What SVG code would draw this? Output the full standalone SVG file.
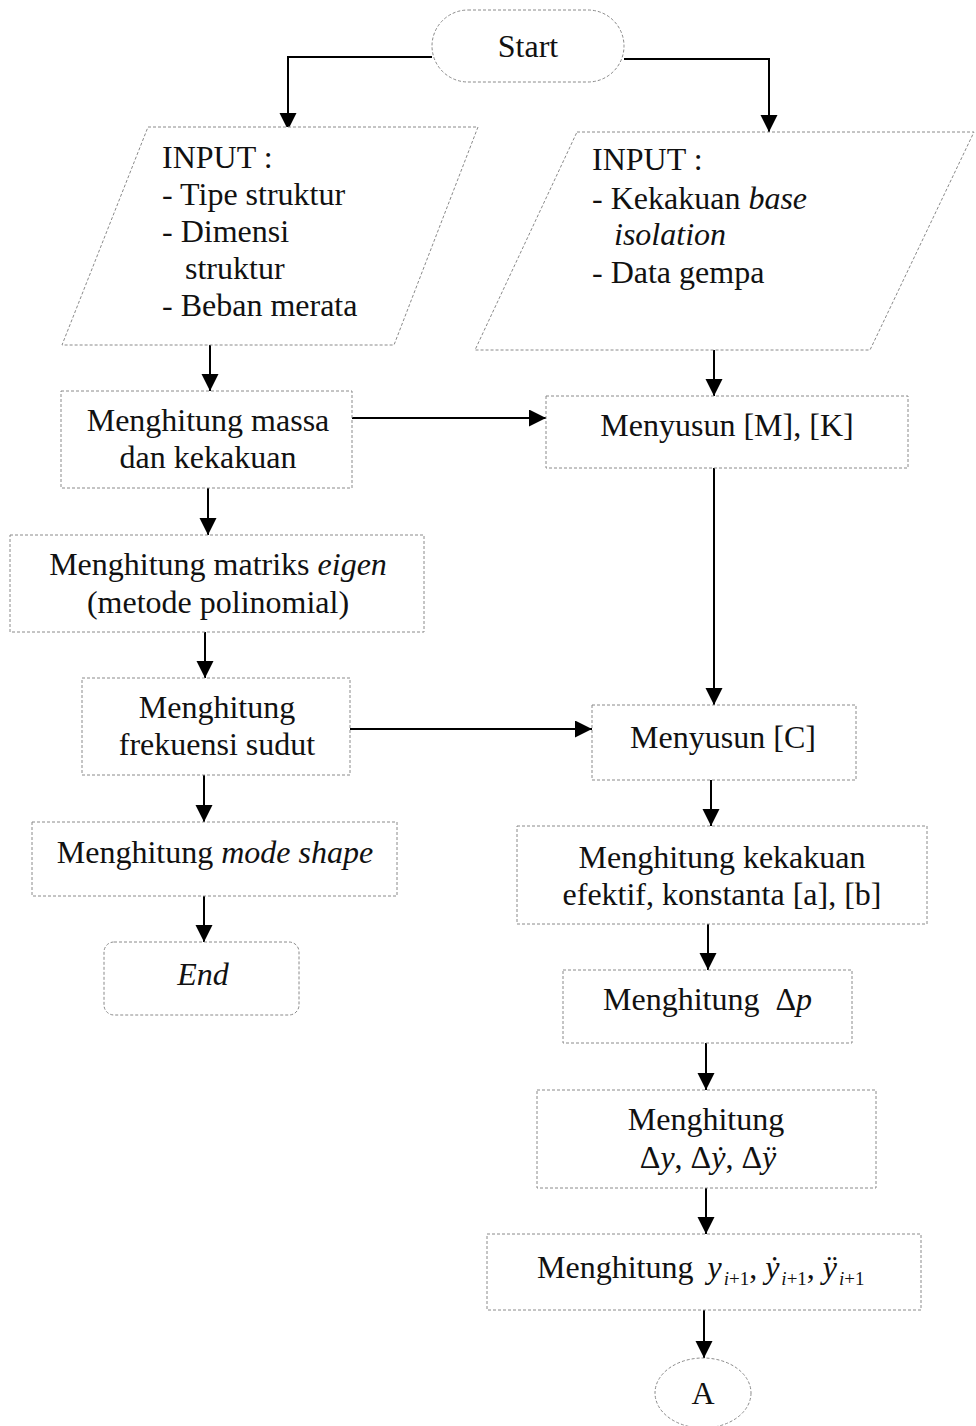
<svg xmlns="http://www.w3.org/2000/svg" width="976" height="1426" viewBox="0 0 976 1426">
<style>
.b{fill:#fff;stroke:#8a8a8a;stroke-width:1;stroke-dasharray:3 2}
.t{font-family:"Liberation Serif","Times New Roman",serif;font-size:32px;fill:#111}
.m{text-anchor:middle}
.i{font-style:italic}
.c{fill:none;stroke:#000;stroke-width:2}
</style>
<defs>
<marker id="ah" markerUnits="userSpaceOnUse" markerWidth="18" markerHeight="18" refX="17" refY="8.5" orient="auto">
<path d="M0,0 L17,8.5 L0,17 z" fill="#000"/>
</marker>
</defs>
<rect width="976" height="1426" fill="#fff"/>
<g id="connectors">
<polyline class="c" points="432,57 288,57 288,130" marker-end="url(#ah)"/>
<polyline class="c" points="624,59 769,59 769,132" marker-end="url(#ah)"/>
<line class="c" x1="210" y1="345" x2="210" y2="391" marker-end="url(#ah)"/>
<line class="c" x1="714" y1="350" x2="714" y2="396" marker-end="url(#ah)"/>
<line class="c" x1="352" y1="418" x2="546" y2="418" marker-end="url(#ah)"/>
<line class="c" x1="208" y1="488" x2="208" y2="535" marker-end="url(#ah)"/>
<line class="c" x1="714" y1="468" x2="714" y2="705" marker-end="url(#ah)"/>
<line class="c" x1="205" y1="632" x2="205" y2="678" marker-end="url(#ah)"/>
<line class="c" x1="350" y1="729" x2="592" y2="729" marker-end="url(#ah)"/>
<line class="c" x1="204" y1="775" x2="204" y2="822" marker-end="url(#ah)"/>
<line class="c" x1="204" y1="896" x2="204" y2="942" marker-end="url(#ah)"/>
<line class="c" x1="711" y1="780" x2="711" y2="826" marker-end="url(#ah)"/>
<line class="c" x1="708" y1="924" x2="708" y2="970" marker-end="url(#ah)"/>
<line class="c" x1="706" y1="1043" x2="706" y2="1090" marker-end="url(#ah)"/>
<line class="c" x1="706" y1="1188" x2="706" y2="1234" marker-end="url(#ah)"/>
<line class="c" x1="704" y1="1310" x2="704" y2="1358" marker-end="url(#ah)"/>
</g>
<g id="start">
<rect class="b" x="432" y="10" width="192" height="72" rx="36"/>
<text class="t m" x="528" y="57">Start</text>
</g>
<g id="input1">
<polygon class="b" points="148,127 478,127 394,345 62,345"/>
<text class="t" x="162" y="168">INPUT :</text>
<text class="t" x="162" y="205">- Tipe struktur</text>
<text class="t" x="162" y="242">- Dimensi</text>
<text class="t" x="185" y="279">struktur</text>
<text class="t" x="162" y="316">- Beban merata</text>
</g>
<g id="input2">
<polygon class="b" points="577,132 974,132 870,350 475,350"/>
<text class="t" x="592" y="170">INPUT :</text>
<text class="t" x="592" y="209">- Kekakuan <tspan class="i">base</tspan></text>
<text class="t i" x="614" y="245">isolation</text>
<text class="t" x="592" y="283">- Data gempa</text>
</g>
<g id="massa">
<rect class="b" x="61" y="391" width="291" height="97"/>
<text class="t m" x="208" y="431">Menghitung massa</text>
<text class="t m" x="208" y="468">dan kekakuan</text>
</g>
<g id="mk">
<rect class="b" x="546" y="396" width="362" height="72"/>
<text class="t m" x="727" y="436">Menyusun [M], [K]</text>
</g>
<g id="eigen">
<rect class="b" x="10" y="535" width="414" height="97"/>
<text class="t m" x="218" y="575">Menghitung matriks <tspan class="i">eigen</tspan></text>
<text class="t m" x="218" y="613">(metode polinomial)</text>
</g>
<g id="frek">
<rect class="b" x="82" y="678" width="268" height="97"/>
<text class="t m" x="217" y="718">Menghitung</text>
<text class="t m" x="217" y="755">frekuensi sudut</text>
</g>
<g id="c">
<rect class="b" x="592" y="705" width="264" height="75"/>
<text class="t m" x="723" y="748">Menyusun [C]</text>
</g>
<g id="mode">
<rect class="b" x="32" y="822" width="365" height="74"/>
<text class="t m" x="215" y="863">Menghitung <tspan class="i">mode shape</tspan></text>
</g>
<g id="end">
<rect class="b" x="104" y="942" width="195" height="73" rx="10"/>
<text class="t m i" x="203" y="985">End</text>
</g>
<g id="efektif">
<rect class="b" x="517" y="826" width="410" height="98"/>
<text class="t m" x="722" y="868">Menghitung kekakuan</text>
<text class="t m" x="722" y="905">efektif, konstanta [a], [b]</text>
</g>
<g id="dp">
<rect class="b" x="563" y="970" width="289" height="73"/>
<text class="t" x="603" y="1010">Menghitung <tspan dx="8">Δ</tspan><tspan class="i">p</tspan></text>
</g>
<g id="dy">
<rect class="b" x="537" y="1090" width="339" height="98"/>
<text class="t m" x="706" y="1130">Menghitung</text>
<text class="t m" x="708" y="1168">Δ<tspan class="i">y</tspan>, Δ<tspan class="i">ẏ</tspan>, Δ<tspan class="i">ÿ</tspan></text>
</g>
<g id="yi">
<rect class="b" x="487" y="1234" width="434" height="76"/>
<text class="t" x="537" y="1278">Menghitung <tspan class="i" dx="6">y</tspan><tspan font-size="19" dy="7" dx="2"><tspan class="i">i</tspan>+1</tspan><tspan dy="-7">, </tspan><tspan class="i">ẏ</tspan><tspan font-size="19" dy="7" dx="2"><tspan class="i">i</tspan>+1</tspan><tspan dy="-7">, </tspan><tspan class="i">ÿ</tspan><tspan font-size="19" dy="7" dx="2"><tspan class="i">i</tspan>+1</tspan></text>
</g>
<g id="a">
<ellipse class="b" cx="703" cy="1393" rx="48" ry="35"/>
<text class="t m" x="703" y="1404">A</text>
</g>
</svg>
